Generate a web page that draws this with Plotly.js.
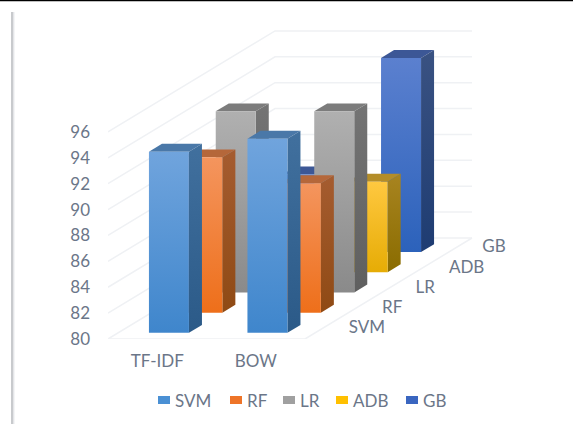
<!DOCTYPE html>
<html>
<head>
<meta charset="utf-8">
<script src="https://cdn.plot.ly/plotly-3.0.1.min.js"></script>
<style>html,body{margin:0;padding:0;background:#fff;overflow:hidden}</style>
</head>
<body>
<div id="chart" style="width:573px;height:424px"></div>
<script>
// Accuracy per feature representation and classifier
const categories = ["TF-IDF", "BOW"];
const seriesNames = ["SVM", "RF", "LR", "ADB", "GB"];
const svmValues = [94, 95];
const rfValues = [92, 90];
const lrValues = [94, 94];
const adbValues = [86, 87];
const gbValues = [86, 95];
const valueTicks = [80, 82, 84, 86, 88, 90, 92, 94, 96];
const allValues = [svmValues, rfValues, lrValues, adbValues, gbValues];

// Face colours: front bottom, front top, top face, side bottom, side top
const palette = [
  ["#3f86cc", "#70a4dd", "#4a78a8", "#2b5a88", "#41709e"],
  ["#ee6f1a", "#f4955e", "#b5673a", "#8f4a14", "#a55c30"],
  ["#8a8a8a", "#b0b0b0", "#7c7c7c", "#5f5f5f", "#747474"],
  ["#e6ac05", "#ffc840", "#b48d28", "#8a6c00", "#a88420"],
  ["#2c62bb", "#5b80cf", "#3c5796", "#1e3c72", "#3a5282"]
];
const legendColors = ["#4a90d4", "#ee7428", "#a0a0a0", "#ffc000", "#3a66c0"];

const FONT = "Lato, 'Open Sans', sans-serif";
const TEXT = "#6b7688";
const GRID = "#eff1f4";

// Plot frame in pixels, and the scale of one unit on each axis
const W = 573, H = 424, LEFT = 108, RIGHT = 530, TOP = 20, BASE = 339;
const PX_X = 98.5, PX_Y = 12.94;
// Oblique depth: how far one series slot shifts a point, in axis units
const DEPTH_X = 33.4 / PX_X, DEPTH_Y = 20.2 / PX_Y;
const BAR_W = 40 / PX_X, BAR_D = 0.39, BAR_NUDGE = 1.5 / PX_X;
const slots = seriesNames.length;

const project = (x, depth, value) => [x + depth * DEPTH_X, value + depth * DEPTH_Y];

function face(points, gradient) {
  const pts = points.map(p => project(p[0], p[1], p[2]));
  pts.push(pts[0]);
  const t = {
    type: "scatter", mode: "lines", x: pts.map(p => p[0]), y: pts.map(p => p[1]),
    fill: "toself", line: {width: 0}, hoverinfo: "skip", showlegend: false
  };
  if (gradient.length === 2) {
    t.fillgradient = {type: "vertical", colorscale: [[0, gradient[0]], [1, gradient[1]]]};
  } else {
    t.fillcolor = gradient[0];
  }
  return t;
}

const traces = [];

// Wall and floor rules
function rule(points) {
  const pts = points.map(p => project(p[0], p[1], p[2]));
  traces.push({
    type: "scatter", mode: "lines", x: pts.map(p => p[0]), y: pts.map(p => p[1]),
    line: {color: GRID, width: 1.5}, hoverinfo: "skip", showlegend: false
  });
}
const nCat = categories.length;
valueTicks.forEach(v => rule([[0, 0, v], [0, slots, v], [nCat, slots, v]]));
rule([[0, 0, 80], [nCat, 0, 80], [nCat, slots, 80]]);

// Bars, painted from the deepest series forward
for (let s = slots - 1; s >= 0; s--) {
  const c = palette[s];
  const d0 = s + (1 - BAR_D) / 2, d1 = d0 + BAR_D;
  categories.forEach((_, i) => {
    const v = allValues[s][i];
    const x0 = i + (1 - BAR_W) / 2 + BAR_NUDGE, x1 = x0 + BAR_W;
    traces.push(face([[x0, d0, v], [x1, d0, v], [x1, d1, v], [x0, d1, v]], [c[2]]));
    traces.push(face([[x1, d0, 80], [x1, d1, 80], [x1, d1, v], [x1, d0, v]], [c[3], c[4]]));
    traces.push(face([[x0, d0, 80], [x1, d0, 80], [x1, d0, v], [x0, d0, v]], [c[0], c[1]]));
  });
}

// Series names along the depth axis
const depthLabels = seriesNames.map((_, s) => project(nCat + 27 / PX_X, s + 0.5, 80));
traces.push({
  type: "scatter", mode: "text",
  x: depthLabels.map(p => p[0]), y: depthLabels.map(p => p[1]),
  text: seriesNames, textposition: "middle right",
  textfont: {family: FONT, size: 17, color: TEXT},
  cliponaxis: false, hoverinfo: "skip", showlegend: false
});

// Helpers for page-level pieces placed in pixels
const px = x => (x - LEFT) / (RIGHT - LEFT);
const py = y => (BASE - y) / (BASE - TOP);
const box = (x0, y0, x1, y1, color) => ({
  type: "rect", xref: "paper", yref: "paper",
  x0: px(x0), x1: px(x1), y0: py(y0), y1: py(y1),
  fillcolor: color, line: {width: 0}
});

const shapes = [
  box(0, 0, W, 1.2, "#000000"),
  box(11, 12, 13, H, "#c8cacd"),
  box(13, 12, 14, H, "#e4e5e8"),
  box(14, 12, 15, H, "#f4f5f6")
];
const legendSwatchX = [158, 230, 283, 336, 406];
const annotations = seriesNames.map((name, s) => ({
  xref: "paper", yref: "paper", x: px(legendSwatchX[s] + 15), y: py(400),
  xanchor: "left", yanchor: "middle", showarrow: false, text: name,
  font: {family: FONT, size: 17, color: TEXT}
}));
seriesNames.forEach((_, s) => {
  shapes.push(box(legendSwatchX[s], 396, legendSwatchX[s] + 12, 404, legendColors[s]));
});

const layout = {
  width: W, height: H,
  margin: {l: LEFT, r: W - RIGHT, t: TOP, b: H - BASE, pad: 0},
  paper_bgcolor: "#ffffff", plot_bgcolor: "#ffffff",
  showlegend: false,
  xaxis: {
    range: [0, (RIGHT - LEFT) / PX_X], showgrid: false, zeroline: false, showline: false,
    tickmode: "array", tickvals: categories.map((_, i) => i + 0.5), ticktext: categories,
    ticks: "", ticklabelstandoff: 10, tickfont: {family: FONT, size: 17, color: TEXT}
  },
  yaxis: {
    range: [80, 80 + (BASE - TOP) / PX_Y], showgrid: false, zeroline: false, showline: false,
    tickmode: "array", tickvals: valueTicks, ticktext: valueTicks.map(String),
    ticks: "", ticklabelstandoff: 17, tickfont: {family: FONT, size: 17, color: TEXT}
  },
  shapes: shapes,
  annotations: annotations
};

Plotly.newPlot("chart", traces, layout, {staticPlot: true, displayModeBar: false});
</script>
</body>
</html>
